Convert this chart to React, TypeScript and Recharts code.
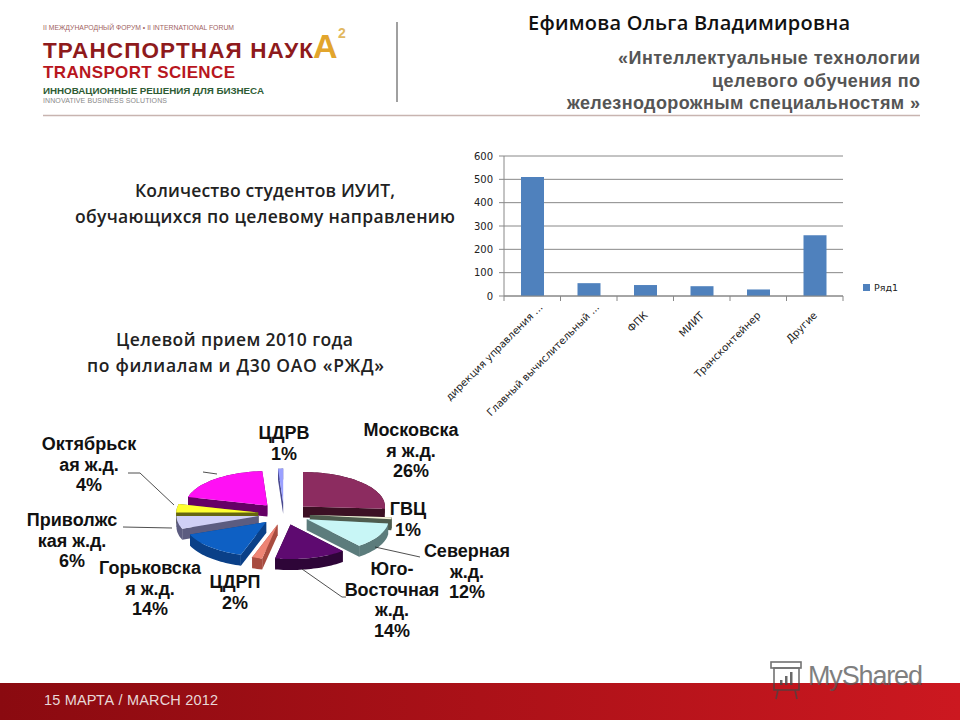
import React from "react";
import { BarChart, Bar, XAxis, YAxis, CartesianGrid, Legend, PieChart, Pie } from "recharts";

const barCategories = ["дирекция управления ...", "Главный вычислительный ...", "ФПК", "МИИТ", "Трансконтейнер", "Другие"];
const barValues = [510, 55, 47, 42, 28, 260];
const barTicks = [0, 100, 200, 300, 400, 500, 600];
const barSeriesName = "Ряд1";

const pieNames = ["Московская ж.д.", "ГВЦ", "Северная ж.д.", "Юго-Восточная ж.д.", "ЦДРП", "Горьковская ж.д.", "Приволжская ж.д.", "Октябрьская ж.д.", "Прочие", "ЦДРВ"];
const pieValues = [26, 1, 12, 14, 2, 14, 6, 4, 20, 1];
const pieTop = ["#8c2c60", "#f2f2d8", "#c8f6f6", "#5e0a70", "#ee8474", "#0e60c4", "#d0d0f6", "#ffff30", "#ff10f4", "#9aa0ff"];
const pieSide = ["#3c1024", "#4e5c4e", "#5c7c7c", "#2e0538", "#a84c40", "#0a4088", "#5c5c80", "#666610", "#660066", "#4a4a90"];

const barData = barCategories.map((name, i) => ({ name, value: barValues[i] }));
const pieData = pieNames.map((name, i) => ({ name, value: pieValues[i], fill: pieTop[i], side: pieSide[i] }));
// Painted in two halves so that nearer slices cover farther ones.
const pieRightHalf = pieData.slice(0, 5);
const pieLeftHalf = pieData.slice(5).reverse();
const pieTotal = pieValues.reduce((a, b) => a + b, 0);
const rightSweep = (pieRightHalf.reduce((a, d) => a + d.value, 0) / pieTotal) * 360;
const leftSweep = 360 - rightSweep;

const SQUASH = 0.42;
const EXPLODE = 26;
const DEPTH = 11;
const RAD = Math.PI / 180;

function Slice3D(props: any) {
  const { cx, cy, startAngle, endAngle, outerRadius, fill, payload } = props;
  const side = props.side ?? payload?.side ?? "#333";
  const mid = (startAngle + endAngle) / 2;
  const ox = cx + EXPLODE * Math.cos(mid * RAD);
  const oy = cy - EXPLODE * SQUASH * Math.sin(mid * RAD);
  const pt = (a: number): [number, number] => [ox + outerRadius * Math.cos(a * RAD), oy - outerRadius * SQUASH * Math.sin(a * RAD)];
  const steps = Math.max(2, Math.ceil(Math.abs(startAngle - endAngle) / 2));
  const arc: [number, number][] = [];
  for (let i = 0; i <= steps; i++) arc.push(pt(startAngle + ((endAngle - startAngle) * i) / steps));
  const toStr = (p: [number, number][]) => p.map(([x, y]) => `${x.toFixed(1)},${y.toFixed(1)}`).join(" ");
  const down = ([x, y]: [number, number]): [number, number] => [x, y + DEPTH];
  const apex: [number, number] = [ox, oy];
  const wall = [...arc, ...arc.slice().reverse().map(down)];
  const cutA = [apex, arc[0], down(arc[0]), down(apex)];
  const cutB = [apex, arc[arc.length - 1], down(arc[arc.length - 1]), down(apex)];
  return (
    <g>
      <polygon points={toStr(cutA)} fill={side} />
      <polygon points={toStr(cutB)} fill={side} />
      <polygon points={toStr(wall)} fill={side} />
      <polygon points={toStr([apex, ...arc])} fill={fill} />
    </g>
  );
}

const PLOT_LEFT = 504;
const PLOT_RIGHT = 843;
const TICK_DROP = 5;

function CategoryTick(props: any) {
  const { x, payload, index, axisY } = props;
  const band = (PLOT_RIGHT - PLOT_LEFT) / barCategories.length;
  const last = index === barCategories.length - 1;
  const y0 = axisY;
  const truncated = String(payload.value).endsWith("...");
  const tx = x + (truncated ? 11 : 3);
  const ty = y0 + (truncated ? 12 : 20);
  return (
    <g>
      <line x1={x - band / 2} x2={x - band / 2} y1={y0} y2={y0 + TICK_DROP} stroke="#888" />
      {last && <line x1={x + band / 2} x2={x + band / 2} y1={y0} y2={y0 + TICK_DROP} stroke="#888" />}
      <text x={tx} y={ty} textAnchor="end" fontSize={10.2} fontFamily="DejaVu Sans" fill="#222" transform={`rotate(-45 ${tx} ${ty})`}>
        {payload.value}
      </text>
    </g>
  );
}

const pieLabels: { lines: string[]; x: number; y: number }[] = [
  { lines: ["Октябрьск", "ая ж.д.", "4%"], x: 89, y: 450 },
  { lines: ["Приволжс", "кая ж.д.", "6%"], x: 72, y: 526 },
  { lines: ["Горьковска", "я ж.д.", "14%"], x: 150, y: 574 },
  { lines: ["ЦДРП", "2%"], x: 235, y: 588 },
  { lines: ["Юго-", "Восточная", "ж.д.", "14%"], x: 392, y: 575 },
  { lines: ["Северная", "ж.д.", "12%"], x: 467, y: 557 },
  { lines: ["ГВЦ", "1%"], x: 408, y: 515 },
  { lines: ["Московска", "я ж.д.", "26%"], x: 411, y: 436 },
  { lines: ["ЦДРВ", "1%"], x: 284, y: 439 },
];

const leaders = [
  "M128 473 L140 473 L174 505",
  "M123 527 L172 528",
  "M375 547 L420 557",
  "M302 569 L342 597 L346 597",
  "M203 472 L217 474",
];

const sans = "Liberation Sans, Arial, sans-serif";
const open = "Open Sans, sans-serif";

function Backdrop() {
  return (
    <svg width={960} height={720} style={{ position: "absolute", left: 0, top: 0 }}>
      <defs>
        <linearGradient id="band" x1="0" x2="1" y1="0" y2="0">
          <stop offset="0" stopColor="#8a0a10" />
          <stop offset="1" stopColor="#cc1820" />
        </linearGradient>
      </defs>
      <rect x={0} y={0} width={960} height={720} fill="#fff" />
      <rect x={0} y={683} width={960} height={37} fill="url(#band)" />
      <text x={44} y={705} fontSize={14.5} fontFamily={sans} fill="#e8d8d8" textLength={174}>15 МАРТА / MARCH 2012</text>

      <text x={43} y={30} fontSize={6.8} fontFamily={sans} fill="#a0625f" textLength={191}>II МЕЖДУНАРОДНЫЙ ФОРУМ • II INTERNATIONAL FORUM</text>
      <text x={43} y={57.5} fontSize={22.5} fontWeight="bold" fontFamily={sans} fill="#8e1a1c" textLength={270}>ТРАНСПОРТНАЯ НАУК</text>
      <text x={313} y={58} fontSize={34} fontWeight="bold" fontFamily={sans} fill="#e2a52c">А</text>
      <text x={338} y={38} fontSize={14} fontWeight="bold" fontFamily={sans} fill="#e2b860">2</text>
      <text x={43} y={78} fontSize={17} fontWeight="bold" fontFamily={sans} fill="#b8161e" textLength={192}>TRANSPORT SCIENCE</text>
      <text x={43} y={94} fontSize={9.8} fontWeight="bold" fontFamily={sans} fill="#2e5c34" textLength={221}>ИННОВАЦИОННЫЕ РЕШЕНИЯ ДЛЯ БИЗНЕСА</text>
      <text x={43} y={103} fontSize={7} fontFamily={sans} fill="#888" textLength={124}>INNOVATIVE BUSINESS SOLUTIONS</text>
      <line x1={43} x2={920} y1={115.5} y2={115.5} stroke="#c8b4b0" strokeWidth={1.6} />
      <line x1={397} x2={397} y1={22} y2={102} stroke="#a0a0a0" strokeWidth={2} />

      <text x={528} y={30} fontSize={20} fontWeight={600} fontFamily={open} fill="#111" textLength={322}>Ефимова Ольга Владимировна</text>
      <text x={618} y={64} fontSize={18} fontWeight="bold" fontFamily={sans} fill="#555" textLength={302}>«Интеллектуальные технологии</text>
      <text x={712} y={87} fontSize={18} fontWeight="bold" fontFamily={sans} fill="#555" textLength={208}>целевого обучения по</text>
      <text x={567} y={109} fontSize={18} fontWeight="bold" fontFamily={sans} fill="#555" textLength={353}>железнодорожным специальностям »</text>

      <text x={135} y={197} fontSize={17.5} fontWeight={600} fontFamily={open} fill="#222" textLength={260}>Количество студентов ИУИТ,</text>
      <text x={75} y={223} fontSize={17.5} fontWeight={600} fontFamily={open} fill="#222" textLength={380}>обучающихся по целевому направлению</text>
      <text x={116} y={346} fontSize={17.5} fontWeight={600} fontFamily={open} fill="#222" textLength={237}>Целевой прием 2010 года</text>
      <text x={87} y={372} fontSize={17.5} fontWeight={600} fontFamily={open} fill="#222" textLength={297}>по филиалам и Д30 ОАО «РЖД»</text>

      <g opacity={0.75} stroke="#444" fill="none" strokeWidth={1.6}>
        <rect x={771} y={662} width={30} height={6} />
        <rect x={774} y={668} width={25} height={22} />
        <path d="M778 690 L776 699 M795 690 L797 699" />
      </g>
      <g opacity={0.8} fill="#444">
        <rect x={780} y={680} width={2.5} height={5} />
        <rect x={785} y={676} width={2.5} height={9} />
        <rect x={790} y={672} width={2.5} height={13} />
      </g>
      <text x={808} y={685} fontSize={27} fontFamily="Liberation Sans Narrow, Liberation Sans" fill="#555" opacity={0.75} textLength={115}>MyShared</text>
    </svg>
  );
}

function PieOverlay() {
  return (
    <svg width={960} height={720} style={{ position: "absolute", left: 0, top: 0, pointerEvents: "none" }}>
      {leaders.map((d) => (
        <path key={d} d={d} fill="none" stroke="#222" strokeWidth={0.8} />
      ))}
      {pieLabels.map((l) => (
        <text key={l.lines[0]} textAnchor="middle" fontSize={18} fontWeight="bold" fontFamily={sans} fill="#111">
          {l.lines.map((t, i) => (
            <tspan key={i} x={l.x} y={l.y + i * 20.5}>{t}</tspan>
          ))}
        </text>
      ))}
    </svg>
  );
}

const LegendBox = () => (
  <div style={{ fontFamily: "DejaVu Sans", fontSize: 9.5, color: "#222", display: "flex", alignItems: "center", gap: 4 }}>
    <span style={{ width: 7, height: 7, background: "#4f81bd", display: "inline-block" }} />
    {barSeriesName}
  </div>
);

export default function App() {
  return (
    <div style={{ position: "absolute", left: 0, top: 0, width: 960, height: 720, overflow: "hidden", background: "#fff" }}>
      <Backdrop />
      <div style={{ position: "absolute", left: 440, top: 140 }}>
        <BarChart width={480} height={301} data={barData} margin={{ top: 16, right: 77, bottom: 0, left: 0 }} barSize={23}>
          <CartesianGrid horizontal vertical={false} stroke="#888" strokeWidth={1} />
          <XAxis dataKey="name" interval={0} tickLine={false} axisLine={{ stroke: "#888" }} tick={<CategoryTick axisY={156} />} height={134} />
          <YAxis width={64} domain={[0, 600]} ticks={barTicks} axisLine={{ stroke: "#888" }} tickLine={{ stroke: "#888" }} tickSize={5} tickMargin={6}
            tick={{ fontSize: 10, fontFamily: "DejaVu Sans", fill: "#222" }} />
          <Bar dataKey="value" name={barSeriesName} fill="#4f81bd" isAnimationActive={false} />
          <Legend layout="vertical" content={<LegendBox />} wrapperStyle={{ position: "absolute", left: 423, top: 142, width: 60 }} />
        </BarChart>
      </div>
      <div style={{ position: "absolute", left: 120, top: 440 }}>
        <PieChart width={320} height={160}>
          <Pie data={pieLeftHalf} dataKey="value" cx={159} cy={69} outerRadius={82} startAngle={90} endAngle={90 + leftSweep}
            stroke="none" isAnimationActive={false} shape={Slice3D} activeShape={Slice3D} inactiveShape={Slice3D} />
          <Pie data={pieRightHalf} dataKey="value" cx={159} cy={69} outerRadius={82} startAngle={90} endAngle={90 - rightSweep}
            stroke="none" isAnimationActive={false} shape={Slice3D} activeShape={Slice3D} inactiveShape={Slice3D} />
        </PieChart>
      </div>
      <PieOverlay />
    </div>
  );
}
